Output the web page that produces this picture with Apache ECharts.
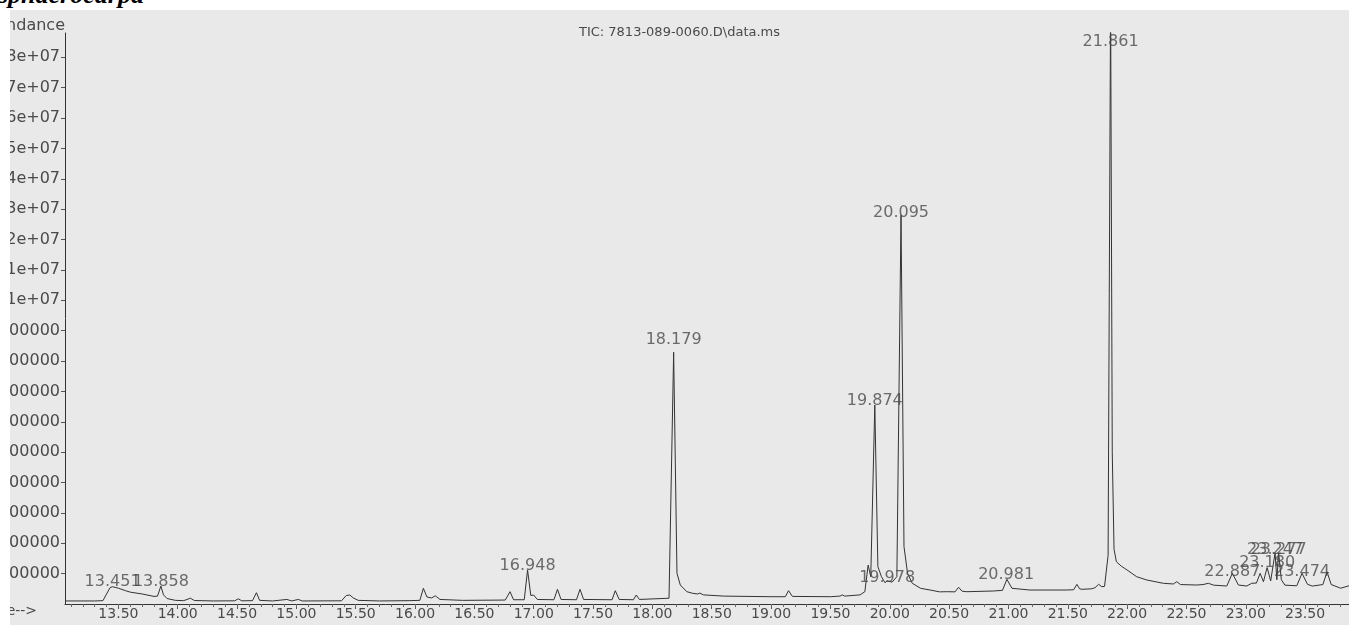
<!DOCTYPE html>
<html>
<head>
<meta charset="utf-8">
<script src="https://cdn.jsdelivr.net/npm/echarts@6/dist/echarts.min.js"></script>
<style>
  html, body { margin: 0; padding: 0; background: #ffffff; width: 1349px; height: 625px; overflow: hidden; }
  #caption { position: absolute; left: -2px; top: -20px; font: italic bold 26px "Liberation Serif", "DejaVu Serif", serif; color: #000; z-index: 2; white-space: nowrap; }
  #chart { position: absolute; left: 10px; top: 10px; width: 1339px; height: 615px; }
</style>
</head>
<body>
<div id="caption">sphaerocarpa</div>
<div id="chart"></div>
<script>
// ---- data ----
const titleText = 'TIC: 7813-089-0060.D\\data.ms';

const traceTime = [
  13.053, 13.30, 13.37, 13.40, 13.43, 13.45, 13.50, 13.56, 13.60, 13.70, 13.80, 13.83, 13.858, 13.88, 13.91, 13.98,
  14.05, 14.107, 14.14, 14.30, 14.48, 14.51, 14.54, 14.63, 14.663, 14.69, 14.80, 14.92, 14.96, 15.016, 15.05,
  15.38, 15.42, 15.45, 15.48, 15.52, 15.70, 15.95, 16.04, 16.07, 16.10, 16.14, 16.17, 16.21, 16.40,
  16.76, 16.80, 16.83, 16.92, 16.948, 16.975, 16.999, 17.03, 17.17, 17.20, 17.23, 17.36, 17.39, 17.42,
  17.66, 17.687, 17.72, 17.84, 17.864, 17.89, 18.14, 18.179, 18.207, 18.235, 18.29, 18.34, 18.38, 18.40, 18.43,
  18.60, 19.00, 19.12, 19.147, 19.18, 19.50, 19.58, 19.60, 19.62, 19.75, 19.79, 19.818, 19.84, 19.874, 19.90,
  19.93, 19.96, 19.978, 20.02, 20.06, 20.095, 20.12, 20.15, 20.19, 20.26, 20.34, 20.42, 20.48, 20.55, 20.58,
  20.61, 20.65, 20.874, 20.95, 20.987, 21.03, 21.18, 21.49, 21.55, 21.577, 21.60, 21.62, 21.70, 21.73, 21.76,
  21.787, 21.81, 21.84, 21.861, 21.875, 21.89, 21.91, 21.95, 22.00, 22.08, 22.166, 22.306, 22.39, 22.419, 22.45,
  22.587, 22.64, 22.685, 22.73, 22.84, 22.887, 22.938, 23.008, 23.05, 23.09, 23.121, 23.149, 23.18, 23.21,
  23.247, 23.262, 23.277, 23.30, 23.33, 23.43, 23.474, 23.52, 23.56, 23.65, 23.685, 23.72, 23.80, 23.87
];
const traceAbundance = [
  100000, 100000, 110000, 330000, 540000, 569000, 520000, 438000, 390000, 330000, 250000, 260000, 592000, 300000, 180000, 120000,
  110000, 190000, 115000, 100000, 105000, 170000, 105000, 110000, 372000, 120000, 100000, 150000, 100000, 150000, 100000,
  105000, 280000, 296000, 200000, 120000, 100000, 110000, 120000, 517000, 230000, 200000, 270000, 150000, 120000,
  130000, 405000, 140000, 140000, 1120000, 280000, 296000, 150000, 140000, 484000, 150000, 140000, 484000, 150000,
  140000, 438000, 150000, 140000, 296000, 150000, 190000, 8290000, 1010000, 625000, 405000, 352000, 330000, 360000, 300000,
  260000, 240000, 240000, 438000, 250000, 240000, 260000, 300000, 260000, 300000, 405000, 1280000, 900000, 6550000, 1230000,
  900000, 700000, 760000, 720000, 900000, 12800000, 1890000, 1010000, 681000, 517000, 460000, 400000, 405000, 400000, 550000,
  420000, 405000, 428000, 450000, 813000, 517000, 460000, 460000, 470000, 648000, 500000, 484000, 500000, 537000, 648000,
  569000, 580000, 1600000, 20000000, 5000000, 1800000, 1390000, 1250000, 1120000, 900000, 790000, 681000, 660000, 734000, 640000,
  625000, 640000, 681000, 620000, 592000, 1010000, 625000, 592000, 681000, 690000, 1010000, 734000, 1200000, 760000,
  1680000, 800000, 1680000, 800000, 620000, 600000, 1010000, 650000, 590000, 640000, 1060000, 640000, 520000, 600000
];

// labelled peaks: retention time and the abundance at which the label sits
const peakTimes = [13.451, 13.858, 16.948, 18.179, 19.874, 19.978, 20.095, 20.981, 21.861, 22.887, 23.180, 23.247, 23.277, 23.474];
const peakLabelAbundance = [560000, 560000, 1090000, 8520000, 6520000, 700000, 12700000, 790000, 18360000, 888000, 1180000, 1610000, 1610000, 888000];

const xMajorTicks = [13.5, 14.0, 14.5, 15.0, 15.5, 16.0, 16.5, 17.0, 17.5, 18.0, 18.5, 19.0, 19.5, 20.0, 20.5, 21.0, 21.5, 22.0, 22.5, 23.0, 23.5];
const yTicks = [1000000, 2000000, 3000000, 4000000, 5000000, 6000000, 7000000, 8000000, 9000000,
  10000000, 11000000, 12000000, 13000000, 14000000, 15000000, 16000000, 17000000, 18000000];
const xMin = 13.05, xMax = 23.87, yMax = 18800000;

// minor ticks every 0.1 min
const xMinorTicks = [];
for (let k = 131; k <= 238; k++) xMinorTicks.push(k / 10);

const traceData = traceTime.map((t, i) => [t, traceAbundance[i]]);
const peakData = peakTimes.map((t, i) => [t, peakLabelAbundance[i]]);

function yFmt(v) {
  if (v < 10000000) return String(v);
  return (v / 10000000).toString().replace(/\.0$/, '') + 'e+07';
}

const txt = '#4a4a4a';
const font = 'DejaVu Sans';
const chart = echarts.init(document.getElementById('chart'), null, { renderer: 'canvas' });
chart.setOption({
  animation: false,
  backgroundColor: '#e9e9ea',
  title: {
    text: titleText, left: 'center', top: 11,
    textStyle: { fontSize: 13, fontWeight: 'normal', color: txt, fontFamily: font }
  },
  graphic: [{
    type: 'text', left: -29, top: 594,
    style: { text: 'Time-->', font: '14px "DejaVu Sans"', fill: txt }
  }],
  grid: { left: 55, right: 0, top: 23, bottom: 21, containLabel: false, outerBoundsMode: 'none' },
  xAxis: [{
    type: 'value', min: xMin, max: xMax,
    axisLine: { show: true, lineStyle: { color: '#333', width: 1 } },
    axisTick: { show: true, customValues: xMajorTicks, length: 5, lineStyle: { color: '#555' } },
    axisLabel: { customValues: xMajorTicks, formatter: v => v.toFixed(2), fontSize: 14, color: txt, fontFamily: font, margin: 3 },
    splitLine: { show: false }
  }, {
    type: 'value', min: xMin, max: xMax, position: 'bottom', gridIndex: 0,
    axisLine: { show: false },
    axisTick: { show: true, customValues: xMinorTicks, length: 3, lineStyle: { color: '#666' } },
    axisLabel: { show: false },
    splitLine: { show: false }
  }],
  yAxis: {
    type: 'value', min: 0, max: yMax,
    name: 'Abundance', nameLocation: 'end', nameGap: 3,
    nameTextStyle: { align: 'right', verticalAlign: 'bottom', fontSize: 16, color: txt, fontFamily: font, padding: [0, 0, -4, 0] },
    axisLine: { show: true, lineStyle: { color: '#333', width: 1 } },
    axisTick: { show: true, customValues: yTicks, length: 4, lineStyle: { color: '#555' } },
    axisLabel: { customValues: yTicks, formatter: yFmt, fontSize: 16, color: txt, fontFamily: font, margin: 5 },
    splitLine: { show: false }
  },
  series: [{
    type: 'line', data: traceData, showSymbol: false, symbol: 'none',
    lineStyle: { color: '#333', width: 1 }, clip: true, z: 2
  }, {
    type: 'scatter', data: peakData, symbolSize: 0, silent: true, clip: false, z: 3,
    label: {
      show: true, position: 'top', distance: -3,
      formatter: p => peakTimes[p.dataIndex].toFixed(3),
      fontSize: 16, color: txt, fontFamily: font
    }
  }]
});
</script>
</body>
</html>
